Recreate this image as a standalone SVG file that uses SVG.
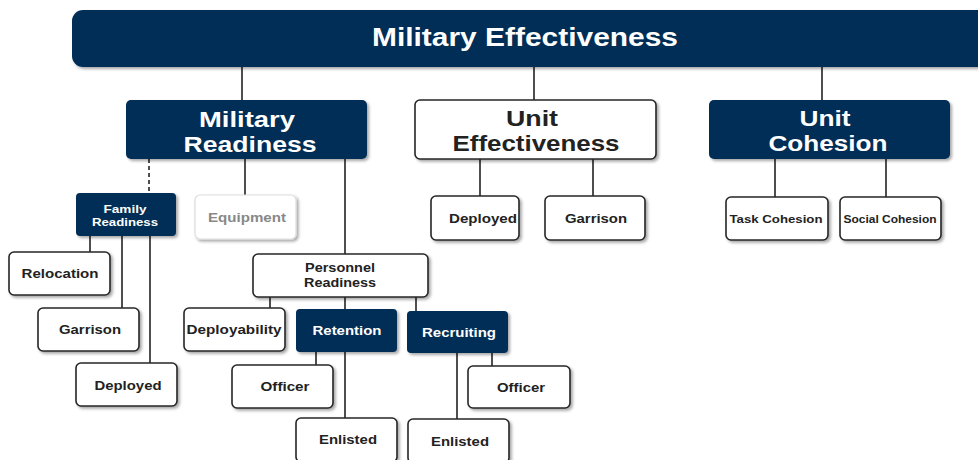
<svg xmlns="http://www.w3.org/2000/svg" width="978" height="460" viewBox="0 0 978 460">
<defs>
<filter id="sh" x="-10%" y="-10%" width="130%" height="140%">
<feDropShadow dx="2" dy="2" stdDeviation="1.5" flood-color="#000" flood-opacity="0.35"/>
</filter>
<style>
.dk{fill:#002d56;filter:url(#sh)}
.wh{fill:#fff;stroke:#262626;stroke-width:1.6;filter:url(#sh)}
.lg{fill:#fff;stroke:#ddd;stroke-width:1.2;filter:url(#sh)}
.ln{stroke:#222;stroke-width:1.6;fill:none}
.t{font-family:"Liberation Sans",Arial,sans-serif;font-weight:bold;text-anchor:middle}
.tw{fill:#fff}
.td{fill:#222}
</style>
</defs>
<g id="connectors">
<line class="ln" x1="242" y1="67" x2="242" y2="100"/>
<line class="ln" x1="534" y1="67" x2="534" y2="100"/>
<line class="ln" x1="822" y1="67" x2="822" y2="100"/>
<line class="ln" x1="149" y1="159" x2="149" y2="193" stroke-dasharray="4,3"/>
<line class="ln" x1="245" y1="159" x2="245" y2="195"/>
<line class="ln" x1="345" y1="159" x2="345" y2="254"/>
<line class="ln" x1="90" y1="236" x2="90" y2="252"/>
<line class="ln" x1="122" y1="236" x2="122" y2="308"/>
<line class="ln" x1="150" y1="236" x2="150" y2="363"/>
<line class="ln" x1="270" y1="297" x2="270" y2="308"/>
<line class="ln" x1="345" y1="297" x2="345" y2="310"/>
<line class="ln" x1="416" y1="297" x2="416" y2="311"/>
<line class="ln" x1="316" y1="352" x2="316" y2="365"/>
<line class="ln" x1="345" y1="352" x2="345" y2="418"/>
<line class="ln" x1="457" y1="353" x2="457" y2="419"/>
<line class="ln" x1="492" y1="353" x2="492" y2="366"/>
<line class="ln" x1="480" y1="159" x2="480" y2="196"/>
<line class="ln" x1="593" y1="159" x2="593" y2="196"/>
<line class="ln" x1="775" y1="159" x2="775" y2="197"/>
<line class="ln" x1="886" y1="159" x2="886" y2="197"/>
</g>
<g id="military-effectiveness">
<rect class="dk" x="72" y="10" width="920" height="57" rx="11"/>
<text class="t tw" x="525" y="46" font-size="26" textLength="306" lengthAdjust="spacingAndGlyphs">Military Effectiveness</text>
</g>
<g id="military-readiness">
<rect class="dk" x="126" y="100" width="241" height="59" rx="5"/>
<text class="t tw" x="247" y="127" font-size="22" textLength="96" lengthAdjust="spacingAndGlyphs">Military</text>
<text class="t tw" x="250" y="152" font-size="22" textLength="133" lengthAdjust="spacingAndGlyphs">Readiness</text>
</g>
<g id="unit-effectiveness">
<rect class="wh" x="415" y="100" width="241" height="59" rx="5"/>
<text class="t td" x="532" y="126" font-size="22" textLength="52" lengthAdjust="spacingAndGlyphs">Unit</text>
<text class="t td" x="536" y="151" font-size="22" textLength="167" lengthAdjust="spacingAndGlyphs">Effectiveness</text>
</g>
<g id="unit-cohesion">
<rect class="dk" x="709" y="100" width="241" height="59" rx="5"/>
<text class="t tw" x="825" y="126" font-size="22" textLength="51" lengthAdjust="spacingAndGlyphs">Unit</text>
<text class="t tw" x="828" y="151" font-size="22" textLength="119" lengthAdjust="spacingAndGlyphs">Cohesion</text>
</g>
<g id="family-readiness">
<rect class="dk" x="76" y="193" width="100" height="43" rx="4"/>
<text class="t tw" x="125" y="213" font-size="11" textLength="43" lengthAdjust="spacingAndGlyphs">Family</text>
<text class="t tw" x="125" y="226" font-size="11" textLength="66" lengthAdjust="spacingAndGlyphs">Readiness</text>
</g>
<g id="equipment">
<rect class="lg" x="195" y="195" width="101" height="44" rx="5"/>
<text class="t" fill="#888" x="247" y="222" font-size="13" textLength="78" lengthAdjust="spacingAndGlyphs">Equipment</text>
</g>
<g id="relocation">
<rect class="wh" x="9" y="252" width="101" height="43" rx="5"/>
<text class="t td" x="60" y="278" font-size="13" textLength="77" lengthAdjust="spacingAndGlyphs">Relocation</text>
</g>
<g id="family-garrison">
<rect class="wh" x="38" y="308" width="101" height="43" rx="5"/>
<text class="t td" x="90" y="334" font-size="13" textLength="62" lengthAdjust="spacingAndGlyphs">Garrison</text>
</g>
<g id="family-deployed">
<rect class="wh" x="76" y="363" width="101" height="43" rx="5"/>
<text class="t td" x="128" y="390" font-size="13" textLength="67" lengthAdjust="spacingAndGlyphs">Deployed</text>
</g>
<g id="personnel-readiness">
<rect class="wh" x="253" y="254" width="175" height="43" rx="5"/>
<text class="t td" x="340" y="272" font-size="12" textLength="70" lengthAdjust="spacingAndGlyphs">Personnel</text>
<text class="t td" x="340" y="287" font-size="12" textLength="72" lengthAdjust="spacingAndGlyphs">Readiness</text>
</g>
<g id="deployability">
<rect class="wh" x="184" y="308" width="101" height="43" rx="5"/>
<text class="t td" x="234" y="334" font-size="13" textLength="95" lengthAdjust="spacingAndGlyphs">Deployability</text>
</g>
<g id="retention">
<rect class="dk" x="296" y="309" width="101" height="43" rx="4"/>
<text class="t tw" x="347" y="335" font-size="13" textLength="69" lengthAdjust="spacingAndGlyphs">Retention</text>
</g>
<g id="recruiting">
<rect class="dk" x="407" y="311" width="101" height="42" rx="4"/>
<text class="t tw" x="459" y="337" font-size="13" textLength="74" lengthAdjust="spacingAndGlyphs">Recruiting</text>
</g>
<g id="retention-officer">
<rect class="wh" x="232" y="365" width="101" height="43" rx="5"/>
<text class="t td" x="285" y="391" font-size="13" textLength="49" lengthAdjust="spacingAndGlyphs">Officer</text>
</g>
<g id="retention-enlisted">
<rect class="wh" x="296" y="418" width="101" height="44" rx="5"/>
<text class="t td" x="348" y="444" font-size="13" textLength="58" lengthAdjust="spacingAndGlyphs">Enlisted</text>
</g>
<g id="recruiting-officer">
<rect class="wh" x="468" y="366" width="102" height="42" rx="5"/>
<text class="t td" x="521" y="392" font-size="13" textLength="48" lengthAdjust="spacingAndGlyphs">Officer</text>
</g>
<g id="recruiting-enlisted">
<rect class="wh" x="408" y="419" width="101" height="44" rx="5"/>
<text class="t td" x="460" y="446" font-size="13" textLength="58" lengthAdjust="spacingAndGlyphs">Enlisted</text>
</g>
<g id="ue-deployed">
<rect class="wh" x="431" y="196" width="88" height="44" rx="5"/>
<text class="t td" x="483" y="223" font-size="13" textLength="68" lengthAdjust="spacingAndGlyphs">Deployed</text>
</g>
<g id="ue-garrison">
<rect class="wh" x="545" y="196" width="100" height="44" rx="5"/>
<text class="t td" x="596" y="223" font-size="13" textLength="62" lengthAdjust="spacingAndGlyphs">Garrison</text>
</g>
<g id="task-cohesion">
<rect class="wh" x="726" y="197" width="102" height="43" rx="5"/>
<text class="t td" x="776" y="223" font-size="11" textLength="93" lengthAdjust="spacingAndGlyphs">Task Cohesion</text>
</g>
<g id="social-cohesion">
<rect class="wh" x="840" y="197" width="101" height="43" rx="5"/>
<text class="t td" x="890" y="223" font-size="10.5" textLength="93" lengthAdjust="spacingAndGlyphs">Social Cohesion</text>
</g>
</svg>
